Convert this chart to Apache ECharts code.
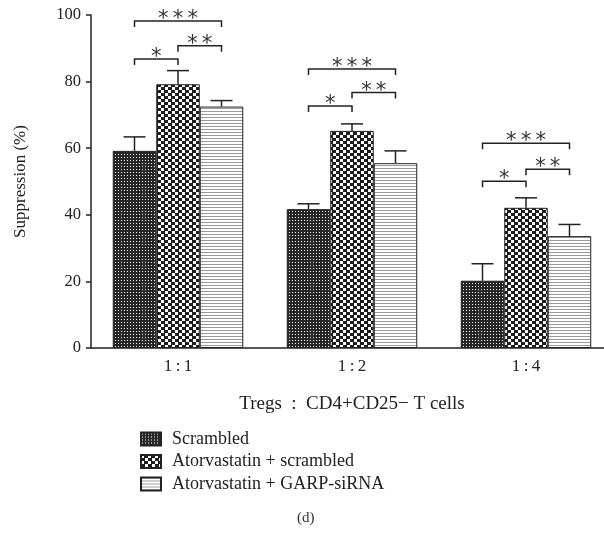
<!DOCTYPE html>
<html>
<head>
<meta charset="utf-8">
<script src="https://cdn.jsdelivr.net/npm/echarts@6/dist/echarts.min.js"></script>
<style>
html,body{margin:0;padding:0;background:#fff;}
#chart{width:604px;height:548px;}
</style>
</head>
<body>
<div id="chart"></div>
<script>
// ---- data ----
var categories = ['1\u2009:\u20091', '1\u2009:\u20092', '1\u2009:\u20094'];
var seriesNames = ['Scrambled', 'Atorvastatin + scrambled', 'Atorvastatin + GARP-siRNA'];
var scrambled = [59.2, 41.7, 20.2];
var scrambledErr = [4.2, 1.6, 5.1];
var atorvastatin = [79.2, 65.2, 42.1];
var atorvastatinErr = [4.1, 2.1, 3.0];
var garp = [72.5, 55.5, 33.6];
var garpErr = [1.8, 3.7, 3.5];
var yTicks = [0, 20, 40, 60, 80, 100];
// brackets: [category, fromBar, toBar, yValue, stars]
var brackets = [
  [0, 0, 1, 86.8, '*'], [0, 1, 2, 90.8, '*\u2009*'], [0, 0, 2, 98.2, '*\u2009*\u2009*'],
  [1, 0, 1, 72.7, '*'], [1, 1, 2, 76.7, '*\u2009*'], [1, 0, 2, 83.8, '*\u2009*\u2009*'],
  [2, 0, 1, 50.1, '*'], [2, 1, 2, 53.7, '*\u2009*'], [2, 0, 2, 61.5, '*\u2009*\u2009*']
];

// ---- styles ----
var BW = 43.5;
var FONT = 'Liberation Serif';
function makePattern(w, h, draw) {
  var c = document.createElement('canvas');
  c.width = w; c.height = h;
  var ctx = c.getContext('2d');
  draw(ctx);
  return { image: c, repeat: 'repeat' };
}
var patScr = makePattern(3, 3, function (ctx) {
  ctx.fillStyle = '#262626'; ctx.fillRect(0, 0, 3, 3);
  ctx.fillStyle = '#ffffff'; ctx.fillRect(1, 1, 1, 1);
});
var patAtv = makePattern(7, 6, function (ctx) {
  ctx.fillStyle = '#1e1e1e'; ctx.fillRect(0, 0, 7, 6);
  ctx.fillStyle = '#ffffff'; ctx.fillRect(0, 0, 3, 3); ctx.fillRect(4, 3, 3, 3);
});
var patGarp = makePattern(1, 3, function (ctx) {
  ctx.fillStyle = '#ffffff'; ctx.fillRect(0, 0, 1, 3);
  ctx.fillStyle = '#9a9a9a'; ctx.fillRect(0, 0, 1, 1);
});
var pats = [patScr, patAtv, patGarp];
var vals = [scrambled, atorvastatin, garp];
var errs = [scrambledErr, atorvastatinErr, garpErr];

var barSeries = seriesNames.map(function (n, i) {
  return {
    name: n, type: 'bar', data: vals[i], barWidth: BW, barGap: '0%',
    itemStyle: { color: pats[i], borderColor: '#222', borderWidth: 1 },
    emphasis: { disabled: true }, animation: false
  };
});

var errData = [];
for (var s = 0; s < 3; s++) for (var c = 0; c < 3; c++) errData.push([c, vals[s][c], vals[s][c] + errs[s][c], s]);

var errSeries = {
  type: 'custom', animation: false, silent: true, z: 5,
  data: errData,
  renderItem: function (params, api) {
    var s = api.value(3);
    var base = api.coord([api.value(0), api.value(1)]);
    var top = api.coord([api.value(0), api.value(2)]);
    var x = base[0] + (s - 1) * BW;
    var st = { stroke: '#222', lineWidth: 1.5 };
    return { type: 'group', children: [
      { type: 'line', shape: { x1: x, y1: base[1], x2: x, y2: top[1] }, style: st },
      { type: 'line', shape: { x1: x - 11, y1: top[1], x2: x + 11, y2: top[1] }, style: st }
    ]};
  }
};

var brSeries = {
  type: 'custom', animation: false, silent: true, z: 6, clip: false,
  data: brackets,
  renderItem: function (params, api) {
    var cat = api.value(0);
    var p0 = api.coord([cat, api.value(3)]);
    var xa = p0[0] + (api.value(1) - 1) * BW;
    var xb = p0[0] + (api.value(2) - 1) * BW;
    var y = p0[1];
    var st = { stroke: '#222', lineWidth: 1.5, fill: null };
    return { type: 'group', children: [
      { type: 'polyline', shape: { points: [[xa, y + 6], [xa, y], [xb, y], [xb, y + 6]] }, style: st },
      { type: 'text', x: (xa + xb) / 2, y: y - 1.5,
        style: { text: brackets[params.dataIndex][4], font: '21px "DejaVu Sans"', fill: '#333', align: 'center', verticalAlign: 'middle' } }
    ]};
  }
};

var chart = echarts.init(document.getElementById('chart'), null, { renderer: 'canvas' });
chart.setOption({
  backgroundColor: '#fff',
  animation: false,
  grid: { left: 91, top: 15, right: -9, bottom: 200, containLabel: false, outerBoundsMode: 'none' },
  xAxis: {
    type: 'category', data: categories,
    name: 'Tregs\u2002:\u2002CD4+CD25\u2212 T cells', nameLocation: 'middle', nameGap: 47,
    nameTextStyle: { fontFamily: FONT, fontSize: 19, color: '#222' },
    axisLine: { lineStyle: { color: '#222', width: 1.5 } },
    axisTick: { alignWithLabel: true, length: 5, lineStyle: { color: '#222', width: 1.5 } },
    axisLabel: { fontFamily: FONT, fontSize: 17, color: '#222', margin: 10 }
  },
  yAxis: {
    type: 'value', min: yTicks[0], max: yTicks[yTicks.length - 1], interval: 20,
    name: 'Suppression (%)', nameLocation: 'middle', nameGap: 62, nameRotate: 90,
    nameTextStyle: { fontFamily: FONT, fontSize: 17, color: '#222' },
    axisLine: { show: true, lineStyle: { color: '#222', width: 1.5 } },
    axisTick: { show: true, length: 5, lineStyle: { color: '#222', width: 1.5 } },
    axisLabel: { fontFamily: FONT, fontSize: 16.5, color: '#222', margin: 10 },
    splitLine: { show: false }
  },
  legend: {
    orient: 'vertical', left: 135, top: 425, itemWidth: 20, itemHeight: 13, itemGap: 4.5,
    icon: 'rect', selectedMode: false,
    textStyle: { fontFamily: FONT, fontSize: 18, color: '#222', padding: [0, 0, 0, 6] },
    data: seriesNames
  },
  graphic: [
    { type: 'text', left: 297, top: 511, style: { text: '(d)', font: '15px "Liberation Serif"', fill: '#333' } }
  ],
  series: barSeries.concat([errSeries, brSeries])
});
</script>
</body>
</html>
